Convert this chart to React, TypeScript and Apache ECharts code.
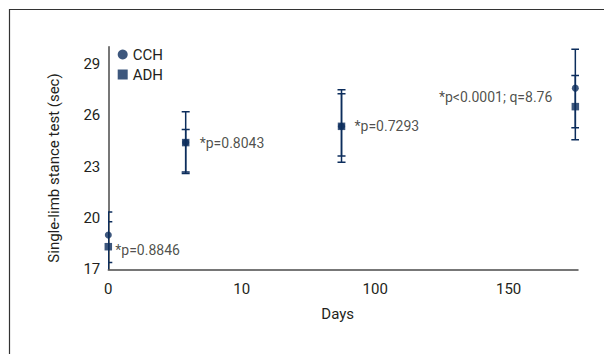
import React, { useEffect, useRef } from "react";
import * as echarts from "echarts";

// ---- data ----
const tickDays = [0, 10, 100, 150];
const tickLabels = ["0", "10", "100", "150"];
const days = [0, 5.8, 77.3, 175];

const cchMean = [19.0, 24.4, 25.35, 27.58];
const cchLow = [17.4, 22.6, 23.25, 25.27];
const cchHigh = [20.35, 26.2, 27.48, 29.85];

const adhMean = [18.32, 24.4, 25.35, 26.5];
const adhLow = [16.85, 22.68, 23.62, 24.57];
const adhHigh = [19.77, 25.17, 27.25, 28.32];

const pLabels = ["*p=0.8846", "*p=0.8043", "*p=0.7293", "*p<0.0001; q=8.76"];

const yTicks = [17, 20, 23, 26, 29];

// ---- styling ----
const NAVY = "#0c2d5c";
const TEXT = "#231f20";
const FONT = "Roboto, 'Liberation Sans', sans-serif";

const annotLayout = [
  { position: "right", distance: 7, offset: [0, 3] },
  { position: "right", distance: 14, offset: [0, 0] },
  { position: "right", distance: 13, offset: [0, 0] },
  { position: "left", distance: 23, offset: [0, -10] },
];

// broken (piecewise) day axis: each labelled day sits one unit apart
function dayToPos(d: number): number {
  for (let i = 0; i < tickDays.length - 1; i++) {
    if (d <= tickDays[i + 1]) {
      return i + (d - tickDays[i]) / (tickDays[i + 1] - tickDays[i]);
    }
  }
  const n = tickDays.length - 1;
  return n + (d - tickDays[n]) / (tickDays[n] - tickDays[n - 1]);
}

function errorSeries(name: string, low: number[], high: number[]) {
  return {
    type: "custom",
    name: name + "-err",
    clip: true,
    z: 2,
    silent: true,
    data: days.map((d, i) => [dayToPos(d), low[i], high[i]]),
    renderItem: (params: any, api: any) => {
      const x = api.value(0);
      const lo = api.coord([x, api.value(1)]);
      const hi = api.coord([x, api.value(2)]);
      const hw = 4;
      const style = { stroke: NAVY, lineWidth: 1.5 };
      return {
        type: "group",
        children: [
          { type: "line", shape: { x1: lo[0], y1: lo[1], x2: hi[0], y2: hi[1] }, style },
          { type: "line", shape: { x1: lo[0] - hw, y1: lo[1], x2: lo[0] + hw, y2: lo[1] }, style },
          { type: "line", shape: { x1: hi[0] - hw, y1: hi[1], x2: hi[0] + hw, y2: hi[1] }, style },
        ],
      };
    },
  };
}

export default function App() {
  const ref = useRef<HTMLDivElement>(null);
  useEffect(() => {
    document.body.style.margin = "0";
    const chart = echarts.init(ref.current!, null, { renderer: "svg" });
    chart.setOption({
      animation: false,
      backgroundColor: "#ffffff",
      textStyle: { fontFamily: FONT },
      grid: { left: 108.3, right: 26, top: 46.7, bottom: 84.7 },
      legend: {
        data: [
          { name: "CCH", icon: "circle" },
          { name: "ADH", icon: "rect" },
        ],
        orient: "vertical",
        left: 112.7,
        top: 42,
        itemWidth: 10,
        itemHeight: 10,
        itemGap: 5,
        textStyle: { fontFamily: FONT, fontSize: 15, color: TEXT, lineHeight: 15 },
      },
      xAxis: {
        type: "value",
        min: 0,
        max: 3.52,
        interval: 1,
        name: "Days",
        nameLocation: "middle",
        nameGap: 37,
        nameTextStyle: { fontFamily: FONT, fontSize: 15, color: TEXT, padding: [0, 11, 0, 0] },
        axisLine: { show: true, lineStyle: { color: "#4a4a4a", width: 1.5 } },
        axisTick: { show: false },
        splitLine: { show: false },
        axisLabel: {
          fontFamily: FONT,
          fontSize: 15,
          color: TEXT,
          margin: 12,
          formatter: (v: number) => {
            const i = Math.round(v);
            return Math.abs(v - i) < 1e-6 && i < tickLabels.length ? tickLabels[i] : "";
          },
        },
      },
      yAxis: {
        type: "value",
        min: 17,
        max: 30,
        interval: 1,
        name: "Single-limb stance test (sec)",
        nameLocation: "middle",
        nameGap: 47,
        nameTextStyle: { fontFamily: FONT, fontSize: 15, color: TEXT, padding: [0, 20, 0, 0] },
        axisLine: { show: true, lineStyle: { color: "#4a4a4a", width: 1.5 } },
        axisTick: { show: false },
        splitLine: { show: false },
        axisLabel: {
          fontFamily: FONT,
          fontSize: 15,
          color: TEXT,
          margin: 8,
          formatter: (v: number) => (yTicks.includes(v) ? String(v) : ""),
        },
      },
      graphic: [
        {
          type: "rect",
          shape: { x: 9.5, y: 9.5, width: 700, height: 500 },
          style: { fill: "none", stroke: "#333333", lineWidth: 1.2 },
          silent: true,
        },
      ],
      series: [
        errorSeries("CCH", cchLow, cchHigh),
        errorSeries("ADH", adhLow, adhHigh),
        {
          type: "scatter",
          name: "CCH",
          symbol: "circle",
          symbolSize: 7,
          z: 3,
          itemStyle: { color: NAVY },
          data: days.map((d, i) => [dayToPos(d), cchMean[i]]),
        },
        {
          type: "scatter",
          name: "ADH",
          symbol: "rect",
          symbolSize: 7.5,
          z: 4,
          itemStyle: { color: NAVY },
          data: days.map((d, i) => [dayToPos(d), adhMean[i]]),
        },
        {
          type: "scatter",
          name: "annotations",
          symbolSize: 0,
          z: 5,
          silent: true,
          data: days.map((d, i) => ({
            value: [dayToPos(d), adhMean[i]],
            label: {
              show: true,
              position: annotLayout[i].position,
              distance: annotLayout[i].distance,
              offset: annotLayout[i].offset,
              formatter: () => pLabels[i],
              fontFamily: FONT,
              fontSize: 14,
              color: TEXT,
            },
          })),
        },
      ],
    });
    return () => chart.dispose();
  }, []);
  return <div ref={ref} style={{ width: 604, height: 354 }} />;
}
